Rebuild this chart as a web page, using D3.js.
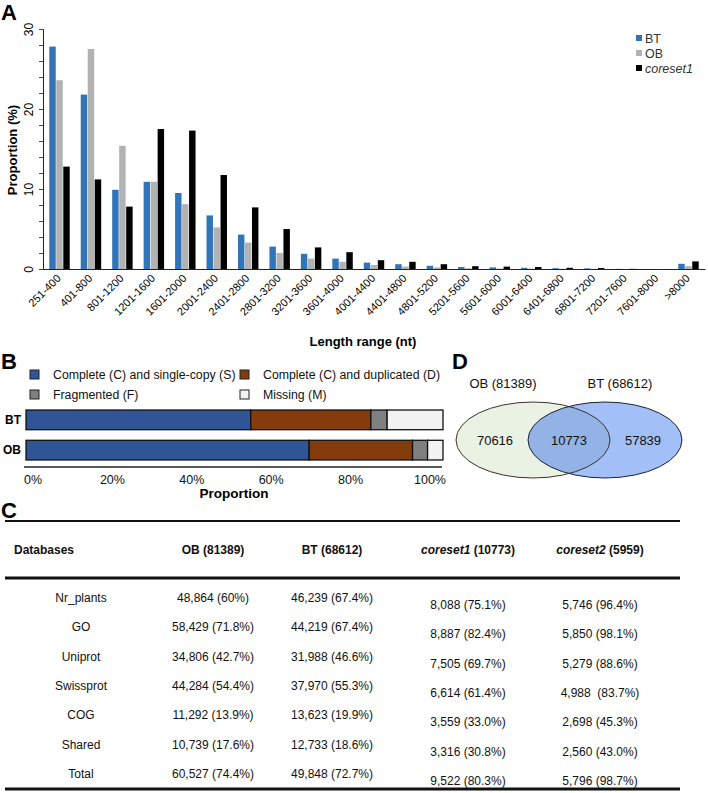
<!DOCTYPE html>
<html><head><meta charset="utf-8">
<script src="https://cdnjs.cloudflare.com/ajax/libs/d3/7.8.5/d3.min.js"></script>
<style>body{margin:0;background:#fff;} svg{display:block;font-family:"Liberation Sans",Arial,sans-serif;}</style>
</head><body><svg id="c" width="708" height="793"></svg>
<script>
// ---------- Panel A data ----------
const lengthRanges = ["251-400","401-800","801-1200","1201-1600","1601-2000","2001-2400","2401-2800","2801-3200","3201-3600","3601-4000","4001-4400","4401-4800","4801-5200","5201-5600","5601-6000","6001-6400","6401-6800","6801-7200","7201-7600","7601-8000",">8000"];
const seriesNames = ["BT","OB","coreset1"];
const btValues =       [27.8,21.8,9.9,10.9,9.5,6.7,4.3,2.8,1.9,1.3,0.8,0.6,0.4,0.25,0.2,0.15,0.1,0.08,0.02,0,0.65];
const obValues =       [23.6,27.5,15.4,10.9,8.1,5.2,3.3,2.0,1.3,0.9,0.5,0.3,0.2,0.1,0.05,0.05,0.03,0.02,0,0,0.35];
const coreset1Values = [12.8,11.2,7.8,17.5,17.3,11.75,7.7,5.0,2.7,2.1,1.1,0.9,0.6,0.35,0.3,0.25,0.15,0.12,0.02,0,0.95];
const yTicksA = [0,10,20,30];

// ---------- Panel B data ----------
const buscoSamples = ["BT","OB"];
const buscoCategories = ["Complete (C) and single-copy (S)","Complete (C) and duplicated (D)","Fragmented (F)","Missing (M)"];
const buscoBT = [53.9,28.8,3.9,13.4];
const buscoOB = [67.9,24.8,3.6,3.7];
const buscoTicks = ["0%","20%","40%","60%","80%","100%"];

// ---------- Panel D data ----------
const vennSets = ["OB (81389)","BT (68612)"];
const vennCounts = [70616,10773,57839];

// ---------- Panel C data ----------
const tableHeader = ["Databases","OB (81389)","BT (68612)","coreset1 (10773)","coreset2 (5959)"];
const tableDatabases = ["Nr_plants","GO","Uniprot","Swissprot","COG","Shared","Total"];
const colOB = ["48,864 (60%)","58,429 (71.8%)","34,806 (42.7%)","44,284 (54.4%)","11,292 (13.9%)","10,739 (17.6%)","60,527 (74.4%)"];
const colBT = ["46,239 (67.4%)","44,219 (67.4%)","31,988 (46.6%)","37,970 (55.3%)","13,623 (19.9%)","12,733 (18.6%)","49,848 (72.7%)"];
const colCore1 = ["8,088 (75.1%)","8,887 (82.4%)","7,505 (69.7%)","6,614 (61.4%)","3,559 (33.0%)","3,316 (30.8%)","9,522 (80.3%)"];
const colCore2 = ["5,746 (96.4%)","5,850 (98.1%)","5,279 (88.6%)","4,988  (83.7%)","2,698 (45.3%)","2,560 (43.0%)","5,796 (98.7%)"];

const svg = d3.select("#c");
const panelLabel = (t,x,y)=>svg.append("text").attr("x",x).attr("y",y).attr("font-size",22).attr("font-weight","bold").attr("fill","#000").text(t);

// ================= Panel A =================
panelLabel("A",1,20);
const ax = d3.scaleBand().domain(lengthRanges).range([43,705]).paddingInner(0.35).paddingOuter(0.2);
const axs = d3.scaleBand().domain(seriesNames).range([0,ax.bandwidth()]).paddingInner(0.08);
const ay = d3.scaleLinear().domain([0,30]).range([269,29]);
const colA = d3.scaleOrdinal().domain(seriesNames).range(["#3274b8","#b2b2b2","#000000"]);
const seriesData = {BT:btValues,OB:obValues,coreset1:coreset1Values};
const gA = svg.append("g");
lengthRanges.forEach((cat,i)=>{
  seriesNames.forEach(s=>{
    const v = seriesData[s][i];
    if(v<=0) return;
    gA.append("rect").attr("x",ax(cat)+axs(s)).attr("width",axs.bandwidth())
      .attr("y",ay(v)).attr("height",ay(0)-ay(v)).attr("fill",colA(s));
  });
});
// y axis
const yAxisA = svg.append("g").attr("transform","translate(43,0)")
  .call(d3.axisLeft(ay).tickValues(d3.range(0,31,2)).tickSize(4).tickFormat(d=>yTicksA.includes(d)?d:""));
yAxisA.select(".domain").attr("stroke","#222");
yAxisA.selectAll(".tick line").attr("stroke","#444");
yAxisA.selectAll(".tick text").attr("font-size",12).attr("fill","#000")
  .attr("x",0).attr("y",0).attr("dy",0).attr("text-anchor","middle")
  .attr("transform","translate(-10,0) rotate(-90)");
// x axis
const xAxisA = svg.append("g").attr("transform","translate(0,269)")
  .call(d3.axisBottom(ax).tickSize(0).tickSizeOuter(0));
xAxisA.select(".domain").attr("stroke","#222").attr("stroke-width",1.2);
xAxisA.selectAll(".tick text").attr("font-size",11).attr("fill","#000")
  .attr("text-anchor","end").attr("dy",0).attr("y",0)
  .attr("transform","translate(2,10) rotate(-45)");
svg.append("text").attr("x",12).attr("y",150).attr("transform","rotate(-90,12,150)")
  .attr("text-anchor","middle").attr("dy","0.35em").attr("font-size",13).attr("font-weight","bold").text("Proportion (%)");
svg.append("text").attr("x",363).attr("y",346).attr("text-anchor","middle")
  .attr("font-size",13).attr("font-weight","bold").text("Length range (nt)");
// legend A
const legA = d3.scaleBand().domain(seriesNames).range([33,78]);
seriesNames.forEach(s=>{
  svg.append("rect").attr("x",636).attr("y",legA(s)+2).attr("width",6).attr("height",6).attr("fill",colA(s));
  svg.append("text").attr("x",645).attr("y",legA(s)+10).attr("font-size",12.5).attr("fill","#333")
    .attr("font-style",s==="coreset1"?"italic":"normal").text(s);
});

// ================= Panel B =================
panelLabel("B",1,369);
const colB = d3.scaleOrdinal().domain(buscoCategories).range(["#2f5597","#843c0c","#808080","#f2f2f2"]);
// legend B
const legCols = [30,240], legRows = [370,390], legText=[53,263];
buscoCategories.forEach((c,i)=>{
  const cx = legCols[i%2], cy = legRows[Math.floor(i/2)];
  svg.append("rect").attr("x",cx).attr("y",cy).attr("width",9).attr("height",9).attr("fill",colB(c)).attr("stroke","#222").attr("stroke-width",1);
  svg.append("text").attr("x",legText[i%2]).attr("y",cy+9).attr("font-size",12.3).attr("fill","#111").text(c);
});
const bx = d3.scaleLinear().domain([0,100]).range([26,443]);
const by = d3.scaleBand().domain(buscoSamples).range([407,463]).paddingInner(0.35).paddingOuter(0.1);
const buscoData = {BT:buscoBT, OB:buscoOB};
buscoSamples.forEach(s=>{
  let acc = 0;
  buscoData[s].forEach((v,i)=>{
    svg.append("rect").attr("x",bx(acc)).attr("width",bx(acc+v)-bx(acc))
      .attr("y",by(s)).attr("height",by.bandwidth()).attr("fill",colB(buscoCategories[i]))
      .attr("stroke","#111").attr("stroke-width",1.3);
    acc += v;
  });
  svg.append("text").attr("x",21).attr("y",by(s)+by.bandwidth()/2).attr("dy","0.35em")
    .attr("text-anchor","end").attr("font-size",12).attr("font-weight","bold").text(s);
});
svg.append("line").attr("x1",24).attr("x2",442).attr("y1",467).attr("y2",467).attr("stroke","#222").attr("stroke-width",1.3);
const bLab = d3.scalePoint().domain(buscoTicks).range([33,430]);
buscoTicks.forEach(t=>{
  svg.append("text").attr("x",bLab(t)).attr("y",484).attr("text-anchor","middle").attr("font-size",12.5).attr("fill","#111").text(t);
});
svg.append("text").attr("x",234).attr("y",498).attr("text-anchor","middle").attr("font-size",13.5).attr("font-weight","bold").text("Proportion");

// ================= Panel D =================
panelLabel("D",452,369);
const vx = d3.scalePoint().domain(vennSets).range([533,605]);
const vLabX = d3.scalePoint().domain(vennSets).range([503,620]);
vennSets.forEach(s=>svg.append("text").attr("x",vLabX(s)).attr("y",388).attr("text-anchor","middle").attr("font-size",13).attr("fill","#111").text(s));
const vcy = 440, vrx = 77, vry = 38;
const defs = svg.append("defs");
defs.append("clipPath").attr("id","obclip").append("ellipse").attr("cx",vx(vennSets[0])).attr("cy",vcy).attr("rx",vrx).attr("ry",vry);
svg.append("ellipse").attr("cx",vx(vennSets[0])).attr("cy",vcy).attr("rx",vrx).attr("ry",vry).attr("fill","#e9f2e3");
svg.append("ellipse").attr("cx",vx(vennSets[1])).attr("cy",vcy).attr("rx",vrx).attr("ry",vry).attr("fill","#a2c0f7");
svg.append("ellipse").attr("cx",vx(vennSets[1])).attr("cy",vcy).attr("rx",vrx).attr("ry",vry).attr("fill","#93b3e7").attr("clip-path","url(#obclip)");
svg.append("ellipse").attr("cx",vx(vennSets[0])).attr("cy",vcy).attr("rx",vrx).attr("ry",vry).attr("fill","none").attr("stroke","#3b3328").attr("stroke-width",1);
svg.append("ellipse").attr("cx",vx(vennSets[1])).attr("cy",vcy).attr("rx",vrx).attr("ry",vry).attr("fill","none").attr("stroke","#1d2233").attr("stroke-width",1);
const vNumX = d3.scalePoint().domain([0,1,2]).range([495,643]);
vennCounts.forEach((c,i)=>svg.append("text").attr("x",vNumX(i)).attr("y",445).attr("text-anchor","middle").attr("font-size",13).attr("fill","#111").text(c));

// ================= Panel C =================
panelLabel("C",1,518);
const colCenters = [null,213,332,468,600];
svg.append("line").attr("x1",5).attr("x2",680).attr("y1",521).attr("y2",521).attr("stroke","#111").attr("stroke-width",2);
svg.append("line").attr("x1",5).attr("x2",680).attr("y1",578).attr("y2",578).attr("stroke","#111").attr("stroke-width",3);
svg.append("line").attr("x1",5).attr("x2",680).attr("y1",789).attr("y2",789).attr("stroke","#111").attr("stroke-width",3);
tableHeader.forEach((h,i)=>{
  const t = svg.append("text").attr("y",554).attr("font-size",12).attr("font-weight","bold").attr("fill","#111");
  if(i===0){ t.attr("x",14).text(h); }
  else {
    t.attr("x",colCenters[i]).attr("text-anchor","middle");
    const parts = h.split(" ");
    if(h.startsWith("coreset")){
      t.append("tspan").attr("font-style","italic").text(parts[0]);
      t.append("tspan").text(" "+parts.slice(1).join(" "));
    } else t.text(h);
  }
});
const ry = d3.scalePoint().domain(tableDatabases).range([602,778]);
const tableCols = [colOB,colBT,colCore1,colCore2];
tableDatabases.forEach((db,r)=>{
  svg.append("text").attr("x",81).attr("y",ry(db)).attr("text-anchor","middle").attr("font-size",12).attr("fill","#111").text(db);
  tableCols.forEach((col,ci)=>{
    svg.append("text").attr("x",colCenters[ci+1]).attr("y",ry(db)+(ci>=2?7:0))
      .attr("text-anchor","middle").attr("font-size",12).attr("fill","#111").style("white-space","pre").text(col[r]);
  });
});
</script></body></html>
